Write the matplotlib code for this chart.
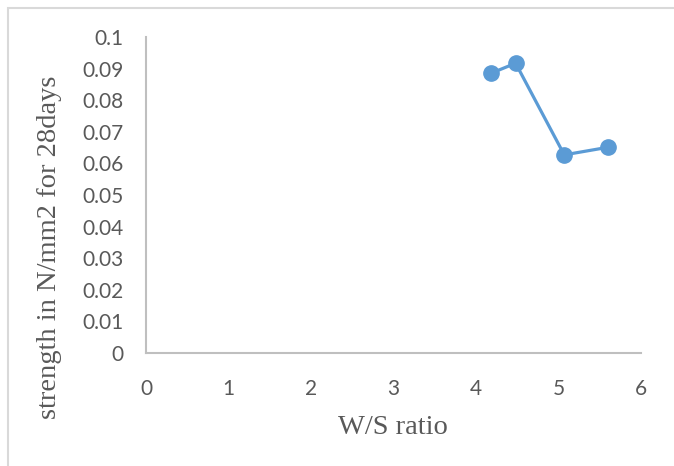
import matplotlib
matplotlib.use("Agg")
import matplotlib.pyplot as plt
from matplotlib.patches import Rectangle

# W/S ratio vs 28-day strength
ws_ratio = [4.18, 4.48, 5.07, 5.60]
strength = [0.0885, 0.0917, 0.0627, 0.0651]

x_ticks = [0, 1, 2, 3, 4, 5, 6]
y_ticks = [0, 0.01, 0.02, 0.03, 0.04, 0.05, 0.06, 0.07, 0.08, 0.09, 0.1]
y_tick_labels = ["0", "0.01", "0.02", "0.03", "0.04", "0.05", "0.06",
                 "0.07", "0.08", "0.09", "0.1"]

W, H = 674, 466
fig = plt.figure(figsize=(W / 100, H / 100), dpi=100)

# chart-area border (runs off the right and bottom edges)
fig.patches.append(Rectangle((8 / W, -0.05), 1.1, (H - 8) / H + 0.05,
                             transform=fig.transFigure, fill=False,
                             edgecolor="#D9D9D9", linewidth=1.5))

ax = fig.add_axes([146 / W, (H - 353) / H, (641 - 146) / W, (353 - 37) / H])
ax.plot(ws_ratio, strength, color="#5B9BD5", linewidth=2.3, marker="o",
        markersize=11, solid_capstyle="round", zorder=3)

ax.set_xlim(0, 6)
ax.set_ylim(0, 0.1)
ax.set_xticks(x_ticks)
ax.set_yticks(y_ticks)
ax.set_yticklabels(y_tick_labels)

for side in ("top", "right"):
    ax.spines[side].set_visible(False)
for side in ("left", "bottom"):
    ax.spines[side].set_color("#BFBFBF")
    ax.spines[side].set_linewidth(1.5)

ax.tick_params(axis="both", length=0, labelcolor="#595959", labelsize=15)
ax.tick_params(axis="x", pad=19)
ax.tick_params(axis="y", pad=16)
for lbl in ax.get_xticklabels() + ax.get_yticklabels():
    lbl.set_family("Lato")

ax.set_xlabel("W/S ratio", family="Liberation Serif", fontsize=20.5,
              color="#595959")
ax.set_ylabel("strength in N/mm2 for 28days", family="Liberation Serif",
              fontsize=20.5, color="#595959")
ax.xaxis.set_label_coords(0.498, -0.195)
ax.yaxis.set_label_coords(-0.17, 0.335)

fig.savefig("out.png", dpi=100)
